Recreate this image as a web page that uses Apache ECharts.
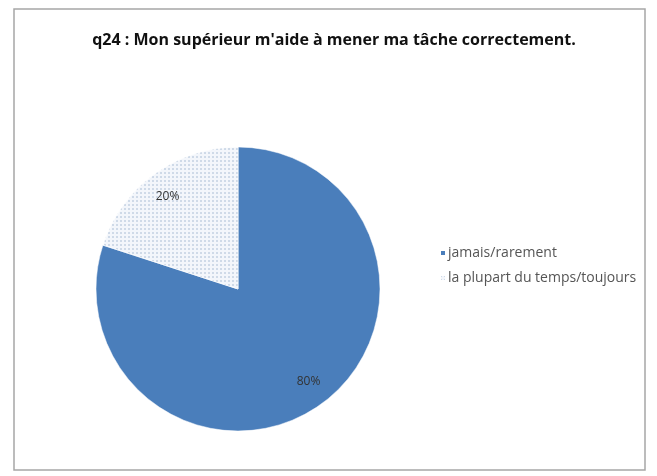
<!DOCTYPE html>
<html><head><meta charset="utf-8">
<script src="https://cdn.jsdelivr.net/npm/echarts@6/dist/echarts.min.js"></script>
<style>html,body{margin:0;padding:0;background:#fff}#c{width:657px;height:476px}</style>
</head><body><div id="c"></div>
<script>
const titleText = "q24 : Mon supérieur m'aide à mener ma tâche correctement.";
const categories = ["jamais/rarement", "la plupart du temps/toujours"];
const values = [80, 20];

const chart = echarts.init(document.getElementById('c'), null, {renderer: 'canvas'});
const styles = [
  {itemStyle: {color: '#4a7ebb'}, label: {offset: [27, 33]}},
  {itemStyle: {color: '#f3f6fb', decal: {symbol: 'circle', symbolSize: 1, dashArrayX: [2, 2], dashArrayY: [2, 2], color: '#c3d0e2', rotation: 0}}, label: {offset: [-27, -33]}}
];
const data = categories.map((n, i) => Object.assign({name: n, value: values[i]}, styles[i]));

chart.setOption({
  animation: false,
  backgroundColor: '#fff',
  title: {text: titleText, left: 329, textAlign: 'center', top: 27,
    textStyle: {fontFamily: 'Open Sans', fontWeight: 'bold', fontSize: 16, color: '#111'}},
  legend: {orient: 'vertical', left: 434, top: 240, itemWidth: 6, itemHeight: 6, itemGap: 9,
    icon: 'rect', data: categories,
    textStyle: {fontFamily: 'Open Sans', fontSize: 14, lineHeight: 16, color: '#555', padding: [0, 0, 0, -3]}},
  graphic: [{type: 'rect', shape: {x: 14, y: 9, width: 631, height: 461},
    style: {fill: 'none', stroke: '#a6a6a6', lineWidth: 1.5}, z: 0}],
  series: [{
    type: 'pie', center: [238, 289], radius: [0, 142], startAngle: 90, clockwise: true,
    label: {position: 'inside', formatter: p => Math.round(p.percent) + '%',
      fontFamily: 'Open Sans', fontSize: 12, color: '#333'},
    labelLine: {show: false},
    itemStyle: {borderColor: '#fff', borderWidth: 0.5},
    emphasis: {disabled: true},
    data: data
  }]
});
</script></body></html>
